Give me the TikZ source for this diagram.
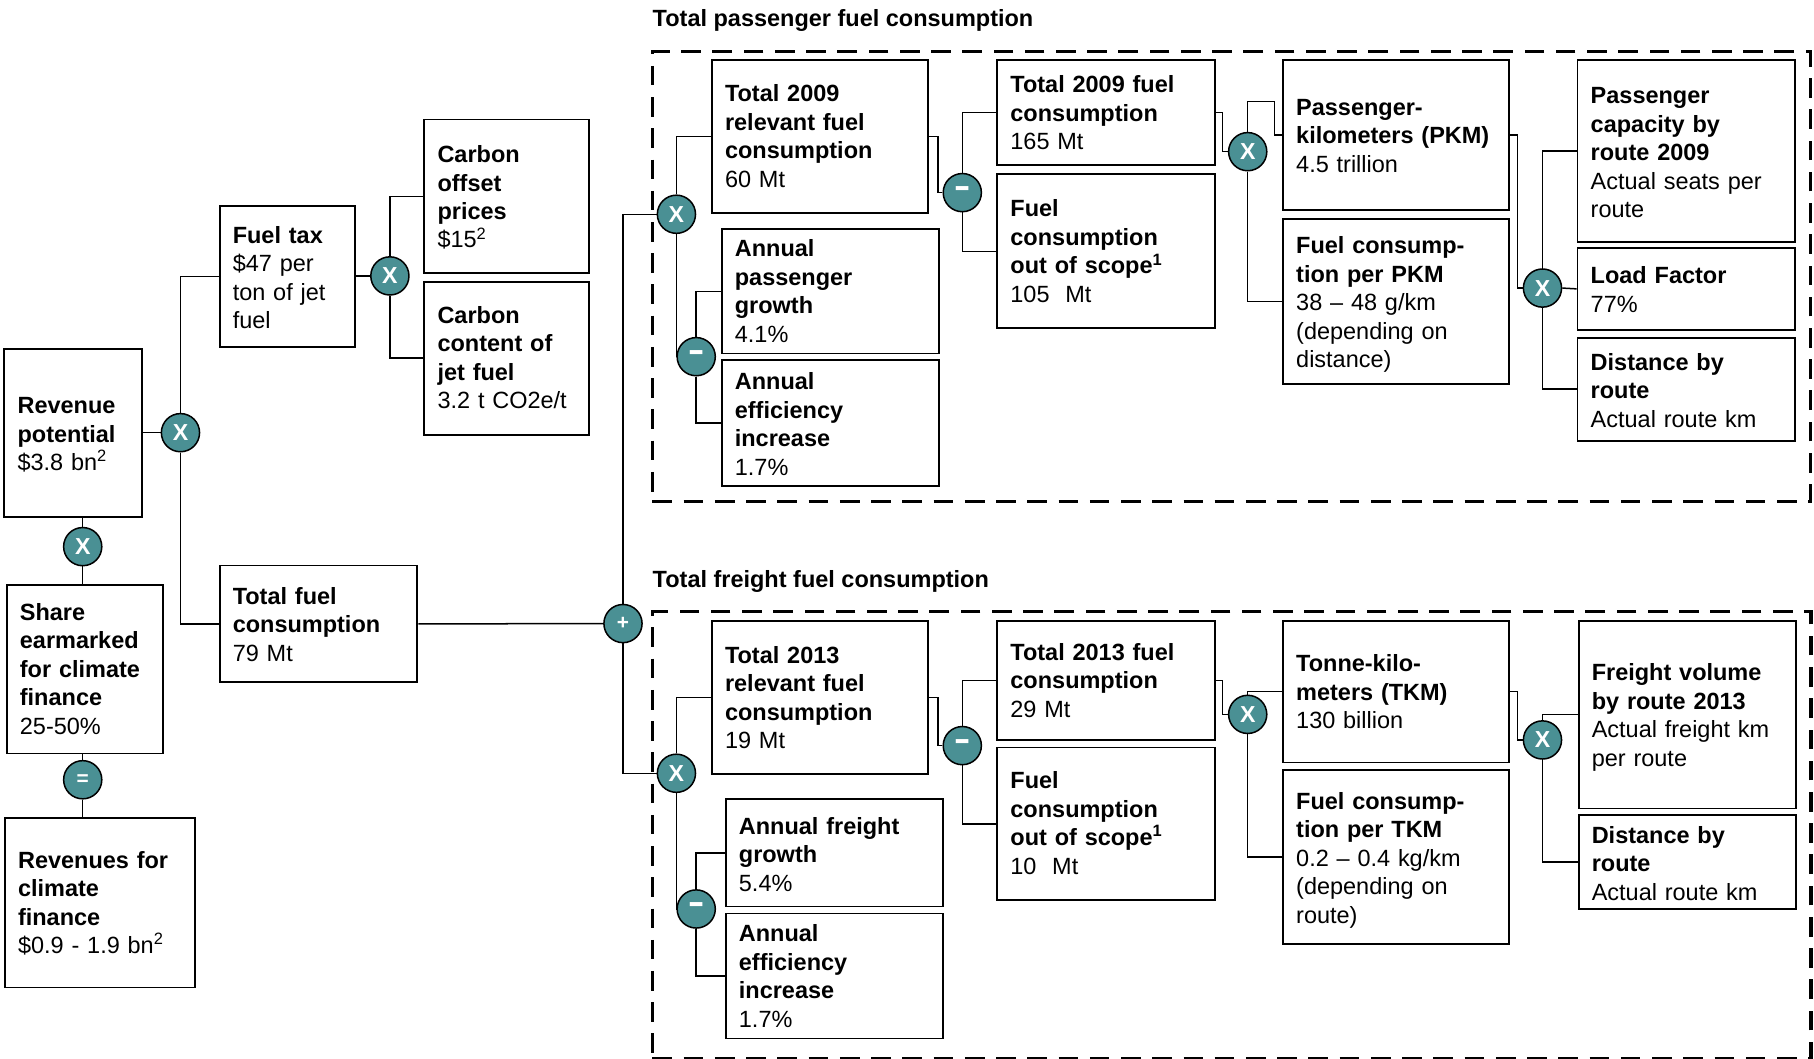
\documentclass[tikz,border=0pt]{standalone}
\usepackage{fontspec}
\setmainfont{Liberation Sans}
\definecolor{opteal}{RGB}{74,144,148}
\tikzset{
  bx/.style={draw=black, line width=1.6, inner sep=0, anchor=north west},
  txt/.style={anchor=base west, inner sep=0, text width=300, align=left, font=\fontsize{20.3}{24.6}\selectfont},
  ttl/.style={anchor=base west, inner sep=0, font=\bfseries\fontsize{20.3}{24.6}\selectfont},
  op/.style={circle, draw=black, line width=1.3, fill=opteal, minimum size=33, inner sep=0, text=white, font=\bfseries\fontsize{20}{20}\selectfont},
  opm/.style={op, font=\bfseries\fontsize{22}{22}\selectfont},
  opp/.style={op, font=\bfseries\fontsize{18}{18}\selectfont},
  ln/.style={line width=1.3},
  grp/.style={draw=black, line width=3, dash pattern=on 17 off 10, inner sep=0, anchor=north west}
}
\newcommand\mybox[7]{%
  \node[bx, minimum width={#4-#2}, minimum height={#5-#3}] (#1) at (#2,#3) {};
  \node[txt] at (#2+12,#6) {#7};
}
\newcommand\minusmark{\scalebox{1}[1.6]{–}}
\begin{document}
\begin{tikzpicture}[x=1pt,y=-1pt]
\useasboundingbox (0,0) rectangle (1568,915);
\fill[white] (0,0) rectangle (1568,915);

% group frames
\node[grp, minimum width=1001, minimum height=388.8] (gp) at (562.5,43.2) {};
\node[grp, minimum width=1001.5, minimum height=386.4] (gf) at (562.5,527.2) {};
\node[ttl] (tp) at (564,23.3) {Total passenger fuel consumption};
\node[ttl] (tfr) at (564,508) {Total freight fuel consumption};

% left part
\mybox{rev}{3}{301}{122}{446}{357.5}{\textbf{Revenue}\\\textbf{potential}\\\$3.8 bn\textsuperscript{2}}
\mybox{ft}{189}{177}{306}{299}{210.5}{\textbf{Fuel tax}\\\$47 per\\ton of jet\\fuel}
\mybox{cop}{366}{102.5}{508.5}{235.5}{140.5}{\textbf{Carbon}\\\textbf{offset}\\\textbf{prices}\\\$15\textsuperscript{2}}
\mybox{cc}{366}{242.6}{508.5}{375}{279.5}{\textbf{Carbon}\\\textbf{content of}\\\textbf{jet fuel}\\3.2 t CO2e/t}
\mybox{share}{5}{505}{140}{650.5}{536.2}{\textbf{Share}\\\textbf{earmarked}\\\textbf{for climate}\\\textbf{finance}\\25-50\%}
\mybox{rcf}{3.4}{706}{167.4}{852.8}{750.5}{\textbf{Revenues for}\\\textbf{climate}\\\textbf{finance}\\\$0.9 - 1.9 bn\textsuperscript{2}}
\mybox{tf}{189}{488}{360}{589}{522.5}{\textbf{Total fuel}\\\textbf{consumption}\\79 Mt}

% passenger
\mybox{rel09}{614.5}{51}{801.7}{183.5}{88}{\textbf{Total 2009}\\\textbf{relevant fuel}\\\textbf{consumption}\\60 Mt}
\mybox{apg}{623}{197.3}{811}{304.8}{222}{\textbf{Annual}\\\textbf{passenger}\\\textbf{growth}\\4.1\%}
\mybox{aei}{623}{310.6}{811}{419.2}{337}{\textbf{Annual}\\\textbf{efficiency}\\\textbf{increase}\\1.7\%}
\mybox{t09}{861.2}{51}{1049.5}{142}{80}{\textbf{Total 2009 fuel}\\\textbf{consumption}\\165 Mt}
\mybox{oos09}{861.2}{149.8}{1049.5}{283}{187.5}{\textbf{Fuel}\\\textbf{consumption}\\\textbf{out of scope\textsuperscript{1}}\\105\ \ Mt}
\mybox{pkm}{1108.2}{51}{1303.8}{180.6}{99.7}{\textbf{Passenger-}\\\textbf{kilometers (PKM)}\\4.5 trillion}
\mybox{fpkm}{1108.2}{188.7}{1303.8}{331.3}{219.3}{\textbf{Fuel consump-}\\\textbf{tion per PKM}\\38 – 48 g/km\\(depending on\\distance)}
\mybox{cap}{1362.8}{51}{1550.6}{208.3}{89.6}{\textbf{Passenger}\\\textbf{capacity by}\\\textbf{route 2009}\\Actual seats per\\route}
\mybox{lf}{1362.8}{213.2}{1550.6}{284.6}{245.2}{\textbf{Load Factor}\\77\%}
\mybox{dist}{1362.8}{291}{1550.6}{380.3}{320}{\textbf{Distance by}\\\textbf{route}\\Actual route km}

% freight
\mybox{rel13}{614.5}{535.9}{801.7}{668.4}{573.5}{\textbf{Total 2013}\\\textbf{relevant fuel}\\\textbf{consumption}\\19 Mt}
\mybox{afg}{626.5}{690}{814.4}{782.8}{721}{\textbf{Annual freight}\\\textbf{growth}\\5.4\%}
\mybox{aei13}{626.5}{788.8}{814.4}{896.9}{814}{\textbf{Annual}\\\textbf{efficiency}\\\textbf{increase}\\1.7\%}
\mybox{t13}{861.2}{535.9}{1049.5}{638.7}{570.8}{\textbf{Total 2013 fuel}\\\textbf{consumption}\\29 Mt}
\mybox{oos13}{861.2}{645.3}{1049.5}{777.3}{681.7}{\textbf{Fuel}\\\textbf{consumption}\\\textbf{out of scope\textsuperscript{1}}\\10\ \ Mt}
\mybox{tkm}{1108.2}{535.9}{1303.8}{658.3}{580.8}{\textbf{Tonne-kilo-}\\\textbf{meters (TKM)}\\130 billion}
\mybox{ftkm}{1108.2}{665}{1303.8}{815.3}{699.5}{\textbf{Fuel consump-}\\\textbf{tion per TKM}\\0.2 – 0.4 kg/km\\(depending on\\route)}
\mybox{fv}{1363.7}{535.9}{1551.5}{698.1}{588.6}{\textbf{Freight volume}\\\textbf{by route 2013}\\Actual freight km\\per route}
\mybox{dist13}{1363.7}{703.5}{1551.5}{785}{729}{\textbf{Distance by}\\\textbf{route}\\Actual route km}

% operator circles
\node[op] (xl) at (156,374) {X};
\node[op] (xc) at (337,238.5) {X};
\node[op] (xr) at (71.5,472.5) {X};
\node[opp] (xe) at (71.5,674) {=};
\node[opp] (plus) at (538.5,539) {+};
\node[op] (xp1) at (584.7,185.2) {X};
\node[opm] (mp1) at (601.8,308.3) {\minusmark};
\node[opm] (mp2) at (831.8,166.5) {\minusmark};
\node[op] (xp3) at (1078.5,131.1) {X};
\node[op] (xp4) at (1333.3,249) {X};
\node[op] (xf1) at (584.7,668.4) {X};
\node[opm] (mf1) at (601.8,785.7) {\minusmark};
\node[opm] (mf2) at (831.8,644.5) {\minusmark};
\node[op] (xf3) at (1078.5,617.5) {X};
\node[op] (xf4) at (1333.3,639.6) {X};

% connectors left
\draw[ln] (rev.east |- xl) -- (xl.west);
\draw[ln] (xl.north) |- (ft.west);
\draw[ln] (xl.south) |- (tf.west);
\draw[ln] (ft.east |- xc) -- (xc.west);
\draw[ln] (xc.north) |- (cop.west);
\draw[ln] (xc.south) |- (cc.west);
\draw[ln] (xr.north) -- (xr.north |- rev.south);
\draw[ln] (xr.south) -- (xr.south |- share.north);
\draw[ln] (xe.north) -- (xe.north |- share.south);
\draw[ln] (xe.south) -- (xe.south |- rcf.north);
\draw[ln] (tf.east) -- (plus.west);
\draw[ln] (plus.north) |- (xp1.west);
\draw[ln] (plus.south) |- (xf1.west);

% connectors passenger
\draw[ln] (xp1.north) |- (rel09.west);
\draw[ln] (xp1.south) |- (mp1.west);
\draw[ln] (mp1.north) |- (apg.west);
\draw[ln] (mp1.south) |- (aei.west);
\draw[ln] (rel09.east) -- ++(7.5,0) |- (mp2.west);
\draw[ln] (mp2.north) |- (t09.west);
\draw[ln] (mp2.south) |- (oos09.west);
\draw[ln] (t09.east) -- ++(5.8,0) |- (xp3.west);
\draw[ln] (xp3.north) |- ([xshift=-6.7pt,yshift=28.8pt]pkm.west) |- (pkm.west);
\draw[ln] (xp3.south) |- (fpkm.west);
\draw[ln] (pkm.east) -- ++(6.2,0) |- (xp4.west);
\draw[ln] (xp4.north) |- (cap.west);
\draw[ln] (xp4.east) -- (lf.west);
\draw[ln] (xp4.south) |- (dist.west);

% connectors freight
\draw[ln] (xf1.north) |- (rel13.west);
\draw[ln] (xf1.south) |- (mf1.west);
\draw[ln] (mf1.north) |- (afg.west);
\draw[ln] (mf1.south) |- (aei13.west);
\draw[ln] (rel13.east) -- ++(7.5,0) |- (mf2.west);
\draw[ln] (mf2.north) |- (t13.west);
\draw[ln] (mf2.south) |- (oos13.west);
\draw[ln] (t13.east) -- ++(5.8,0) |- (xf3.west);
\draw[ln] (xf3.north) |- (tkm.west);
\draw[ln] (xf3.south) |- (ftkm.west);
\draw[ln] (tkm.east) -- ++(6.2,0) |- (xf4.west);
\draw[ln] (xf4.north) |- (fv.west);
\draw[ln] (xf4.south) |- (dist13.west);
\end{tikzpicture}
\end{document}
